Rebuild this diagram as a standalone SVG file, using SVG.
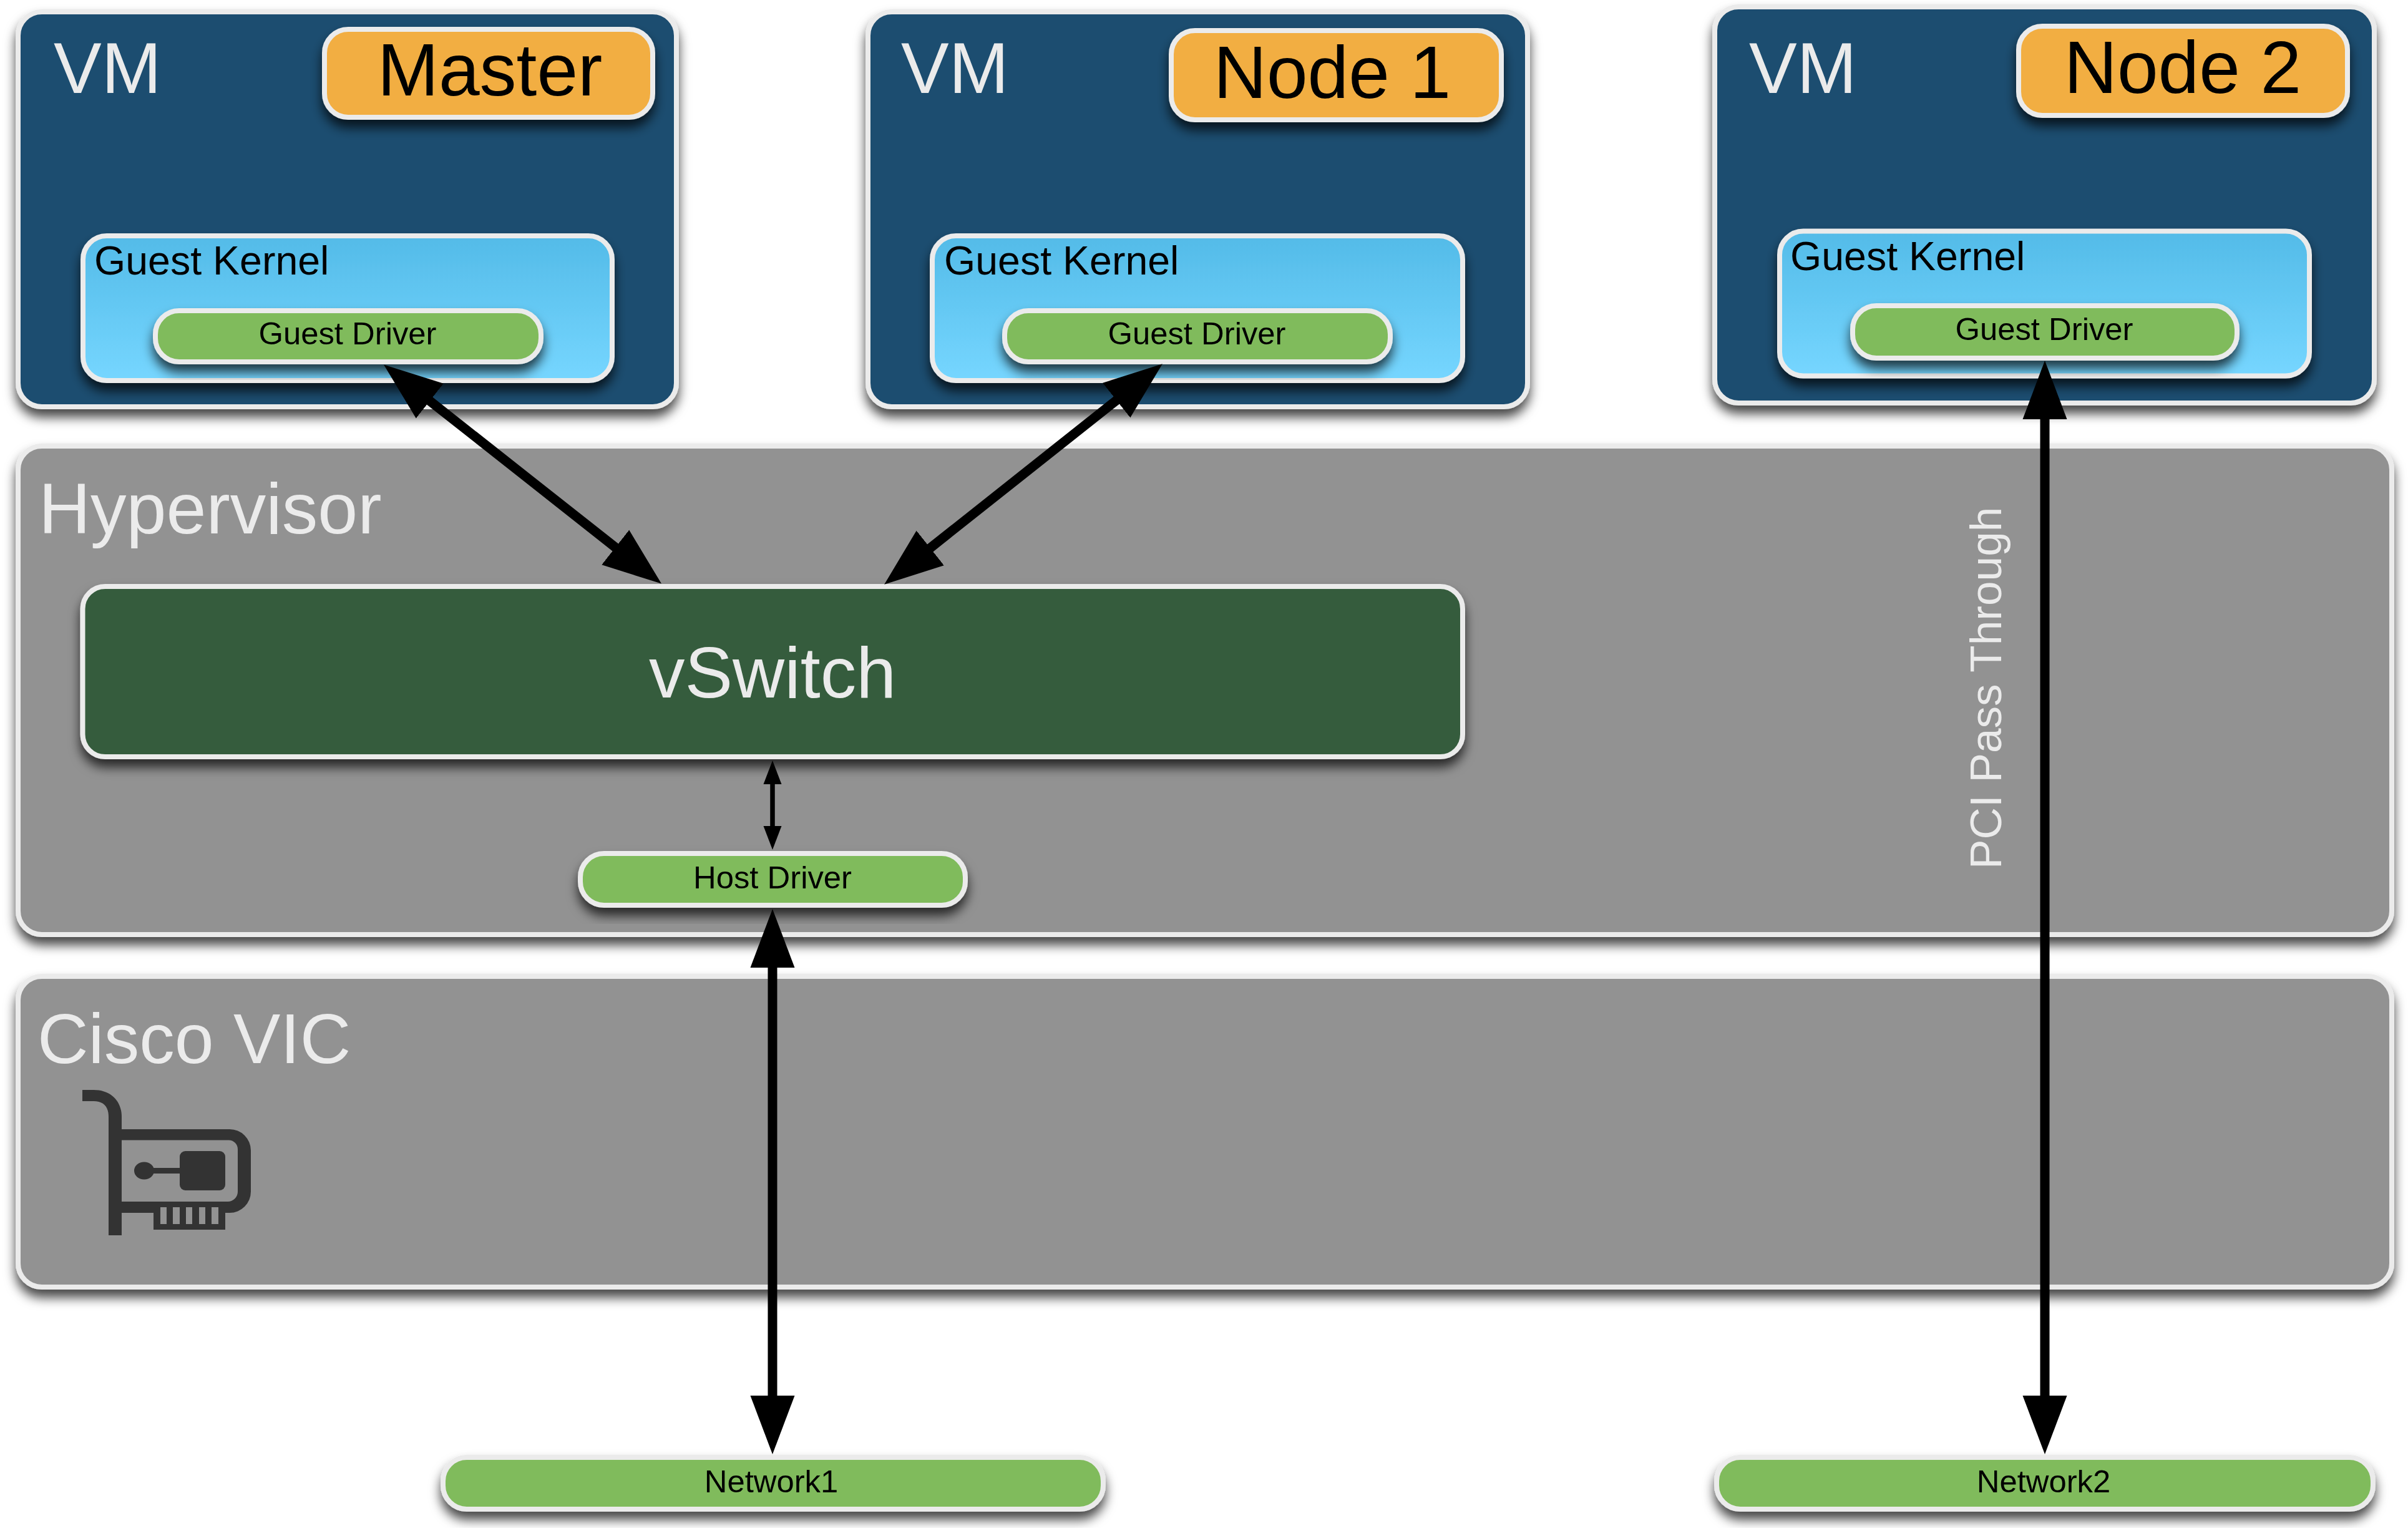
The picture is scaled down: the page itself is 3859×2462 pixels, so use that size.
<svg xmlns="http://www.w3.org/2000/svg" width="3859" height="2462" viewBox="0 0 3859 2462">
<style>
text{font-family:"Liberation Sans",Arial,sans-serif}
.box{stroke:#ebebeb;stroke-width:8;filter:url(#sh)}
.vm{fill:#1e4d6f}
.tag{fill:#f2ae43}
.ker{fill:url(#kg)}
.drv{fill:#80bb5c}
.pan{fill:#929292}
.sw{fill:#355c3c}
.lt{fill:#ebebeb;font-size:115px}
.tt{fill:#000;font-size:118px;text-anchor:middle}
.kt{fill:#000;font-size:64.500px}
.dt{fill:#000;font-size:50.800px;text-anchor:middle}
.big{stroke:#000;stroke-width:15;fill:none;marker-start:url(#bh);marker-end:url(#bh)}
.small{stroke:#000;stroke-width:7.5;fill:none;marker-start:url(#sh2);marker-end:url(#sh2)}
</style>
<defs>
<linearGradient id="kg" x1="0" y1="0" x2="0" y2="1"><stop offset="0" stop-color="#53bbe8"/><stop offset="1" stop-color="#76d6ff"/></linearGradient>
<filter id="sh" x="-8%" y="-15%" width="116%" height="150%"><feDropShadow dx="0" dy="13" stdDeviation="9" flood-color="#000" flood-opacity="0.72"/></filter>
<marker id="bh" markerUnits="userSpaceOnUse" markerWidth="96" markerHeight="72" refX="1" refY="36" orient="auto-start-reverse"><path d="M0 .5L94 36L0 71.500Z" fill="#000"/></marker>
<marker id="sh2" markerUnits="userSpaceOnUse" markerWidth="40" markerHeight="30" refX="1" refY="15" orient="auto-start-reverse"><path d="M0 .5L38 15L0 29.500Z" fill="#000"/></marker>
</defs>
<g id="vm-master"><rect class="box vm" x="29" y="19" width="1055" height="633" rx="38"/><text class="lt" x="86" y="149">VM</text></g>
<g id="tag-master"><rect class="box tag" x="520" y="47" width="526" height="141" rx="38"/><text class="tt" x="785" y="153">Master</text></g>
<g id="kernel-master"><rect class="box ker" x="133" y="378" width="848" height="232" rx="38"/><text class="kt" x="151" y="440">Guest Kernel</text></g>
<g id="driver-master"><rect class="box drv" x="249" y="498" width="618" height="82" rx="38"/><text class="dt" x="557" y="552">Guest Driver</text></g>
<g id="vm-node1"><rect class="box vm" x="1391" y="19" width="1057" height="633" rx="38"/><text class="lt" x="1444" y="149">VM</text></g>
<g id="tag-node1"><rect class="box tag" x="1877" y="49" width="529" height="143" rx="38"/><text class="tt" x="2135" y="157">Node 1</text></g>
<g id="kernel-node1"><rect class="box ker" x="1494" y="378" width="850" height="232" rx="38"/><text class="kt" x="1513" y="440">Guest Kernel</text></g>
<g id="driver-node1"><rect class="box drv" x="1610" y="498" width="618" height="82" rx="38"/><text class="dt" x="1918" y="552">Guest Driver</text></g>
<g id="vm-node2"><rect class="box vm" x="2748" y="11" width="1057" height="635" rx="38"/><text class="lt" x="2803" y="149">VM</text></g>
<g id="tag-node2"><rect class="box tag" x="3235" y="42" width="527" height="143" rx="38"/><text class="tt" x="3498" y="149">Node 2</text></g>
<g id="kernel-node2"><rect class="box ker" x="2852" y="370.500" width="849" height="232" rx="38"/><text class="kt" x="2869" y="433">Guest Kernel</text></g>
<g id="driver-node2"><rect class="box drv" x="2969" y="490" width="616" height="84" rx="38"/><text class="dt" x="3276" y="545">Guest Driver</text></g>
<g id="hypervisor"><rect class="box pan" x="29" y="715" width="3804" height="783" rx="38"/><text class="lt" x="62" y="855">Hypervisor</text></g>
<g id="pci-label"><text class="lt" transform="translate(3207 1393) rotate(-90)" style="font-size:71.200px">PCI Pass Through</text></g>
<g id="vswitch"><rect class="box sw" x="132.500" y="940" width="2211.500" height="273" rx="36"/><text class="lt" x="1238" y="1118" style="text-anchor:middle">vSwitch</text></g>
<g id="host-driver"><rect class="box drv" x="930" y="1368" width="617" height="83" rx="38"/><text class="dt" x="1238" y="1424">Host Driver</text></g>
<g id="cisco-vic"><rect class="box pan" x="29" y="1565" width="3804" height="498" rx="38"/><text class="lt" x="60" y="1704" style="font-size:113px">Cisco VIC</text>
<g id="nic-icon" fill="#333"><path fill-rule="evenodd" d="M132 1747H150C178 1747 195 1765 195 1790V1810H368A34 34 0 0 1 402 1844V1910A34 34 0 0 1 368 1944H361V1971H246V1944H195V1980H174V1790C174 1774 166 1765 150 1765H132ZM195 1827.500V1926H365A16 16 0 0 0 381 1910V1842A14.500 14.500 0 0 0 366.500 1827.500ZM257 1935V1962H267V1935ZM277 1935V1962H288V1935ZM298 1935V1962H308V1935ZM319 1935V1962H329V1935ZM339 1935V1962H350V1935Z"/><rect x="288" y="1845" width="73" height="63" rx="9"/><ellipse cx="231" cy="1876.500" rx="16" ry="14"/><rect x="240" y="1872" width="50" height="9"/></g></g>
<g id="network1"><rect class="box drv" x="710" y="2336" width="1058" height="83" rx="38"/><text class="dt" x="1236" y="2392">Network1</text></g>
<g id="network2"><rect class="box drv" x="2751" y="2336" width="1052" height="83" rx="38"/><text class="dt" x="3275" y="2392">Network2</text></g>
<g id="connectors">
<line class="big" x1="688" y1="642" x2="987" y2="878"/>
<line class="big" x1="1790" y1="641" x2="1490" y2="879"/>
<line class="small" x1="1238" y1="1256" x2="1238" y2="1325"/>
<line class="big" x1="1238" y1="1550" x2="1238" y2="2238"/>
<line class="big" x1="3277" y1="671" x2="3277" y2="2238"/>
</g>
</svg>
